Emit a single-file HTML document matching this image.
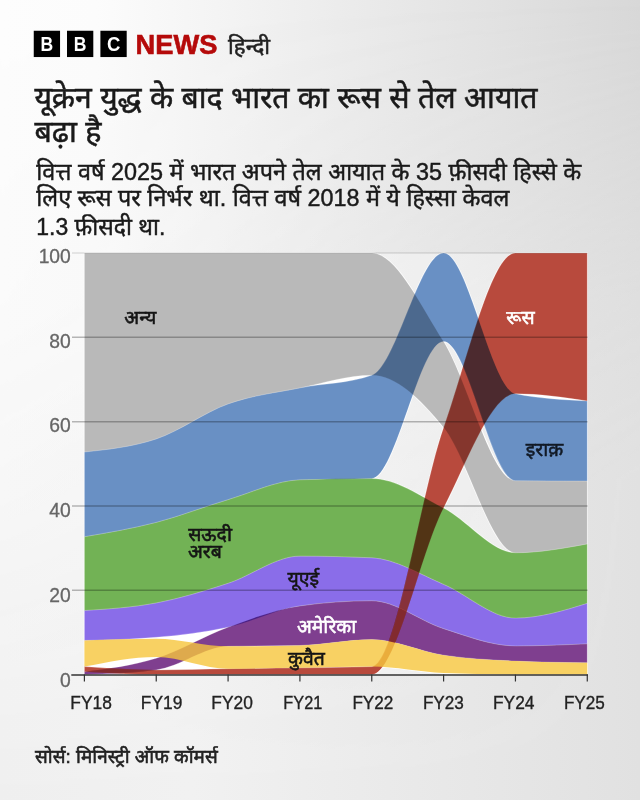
<!DOCTYPE html>
<html><head><meta charset="utf-8"><title>chart</title>
<style>
html,body{margin:0;padding:0;}
body{width:640px;height:800px;overflow:hidden;background:#ebebeb;font-family:"Liberation Sans",sans-serif;}
svg{position:absolute;left:0;top:0;}
.areas{isolation:isolate;}
.a{mix-blend-mode:multiply;stroke:#fff;stroke-width:0.25;}
.h{fill:#fff;stroke:#fff;stroke-width:1.3;stroke-linejoin:round;}
.news{font-family:"Liberation Sans",sans-serif;font-weight:bold;font-size:27.6px;fill:#b50a0a;stroke:#b50a0a;stroke-width:0.6;}
.bl{font-family:"Liberation Sans",sans-serif;font-weight:bold;font-size:19.5px;fill:#fff;}
#txt text{font-family:"Liberation Sans","Noto Sans Devanagari",sans-serif;}
</style></head><body>
<svg width="640" height="800" viewBox="0 0 640 800">
<defs>
<linearGradient id="gt" x1="0" y1="0" x2="1" y2="0"><stop offset="0" stop-color="#fdfdfd"/><stop offset="0.15" stop-color="#fcfcfc"/><stop offset="1" stop-color="#d8d8d8"/></linearGradient>
<linearGradient id="gb" x1="0" y1="0" x2="1" y2="0"><stop offset="0" stop-color="#efefef"/><stop offset="0.3" stop-color="#f1f1f1"/><stop offset="1" stop-color="#e1e1e1"/></linearGradient>
<linearGradient id="gmL" x1="0" y1="0" x2="0" y2="1"><stop offset="0" stop-color="#000"/><stop offset="0.375" stop-color="#262626"/><stop offset="0.625" stop-color="#757575"/><stop offset="1" stop-color="#fff"/></linearGradient>
<linearGradient id="gmR" x1="0" y1="0" x2="0" y2="1"><stop offset="0" stop-color="#000"/><stop offset="0.375" stop-color="#c0c0c0"/><stop offset="0.6" stop-color="#fff"/><stop offset="1" stop-color="#fff"/></linearGradient>
<linearGradient id="gmH" x1="0" y1="0" x2="1" y2="0"><stop offset="0" stop-color="#fff" stop-opacity="0"/><stop offset="1" stop-color="#fff" stop-opacity="1"/></linearGradient>
<mask id="mh" maskUnits="userSpaceOnUse" x="0" y="0" width="640" height="800"><rect x="0" y="0" width="640" height="800" fill="url(#gmH)"/></mask>
<clipPath id="cpv"><path d="M84.40,671.65C108.35,668.61 132.29,665.57 156.24,658.16C180.19,650.74 204.13,635.88 228.08,627.17C252.03,618.46 275.97,609.25 299.92,605.88C323.87,602.51 347.81,600.82 371.76,600.82C395.71,600.82 419.65,621.13 443.60,628.65C467.55,636.16 491.49,645.93 515.44,645.93C539.39,645.93 563.33,644.88 587.28,643.82L587.28,662.80C563.33,662.51 539.39,662.23 515.44,661.11C491.49,659.98 467.55,658.79 443.60,655.21C419.65,651.62 395.71,639.61 371.76,639.61C347.81,639.61 323.87,644.95 299.92,645.51C275.97,646.07 252.03,645.79 228.08,646.35C204.13,646.91 180.19,666.87 156.24,669.96C132.29,673.05 108.35,673.83 84.40,674.60Z"/><path d="M84.40,610.52C108.35,608.99 132.29,607.46 156.24,602.93C180.19,598.40 204.13,591.12 228.08,583.32C252.03,575.52 275.97,556.13 299.92,556.13C323.87,556.13 347.81,556.69 371.76,557.82C395.71,558.94 419.65,574.33 443.60,584.38C467.55,594.43 491.49,618.11 515.44,618.11C539.39,618.11 563.33,610.73 587.28,603.35L587.28,643.82C563.33,644.88 539.39,645.93 515.44,645.93C491.49,645.93 467.55,636.16 443.60,628.65C419.65,621.13 395.71,600.82 371.76,600.82C347.81,600.82 323.87,602.51 299.92,605.88C275.97,609.25 252.03,621.94 228.08,627.17C204.13,632.40 180.19,635.18 156.24,637.29C132.29,639.40 108.35,639.92 84.40,640.45Z"/></clipPath>
<mask id="mk" maskUnits="userSpaceOnUse" x="0" y="0" width="640" height="800"><rect x="0" y="0" width="640" height="800" fill="url(#gmL)"/><rect x="0" y="0" width="640" height="800" fill="url(#gmR)" mask="url(#mh)"/></mask>
</defs>
<rect x="0" y="0" width="640" height="800" fill="url(#gt)"/>
<rect x="0" y="0" width="640" height="800" fill="url(#gb)" mask="url(#mk)"/>
<g id="logo">
<rect x="33.75" y="30.75" width="26.3" height="26.3" fill="#000"/>
<rect x="67" y="30.75" width="26.3" height="26.3" fill="#000"/>
<rect x="100.4" y="30.75" width="26.3" height="26.3" fill="#000"/>
<text class="bl" transform="translate(46.9 51) scale(0.9 1)" text-anchor="middle">B</text>
<text class="bl" transform="translate(80.15 51) scale(0.9 1)" text-anchor="middle">B</text>
<text class="bl" transform="translate(113.75 51) scale(0.95 1)" text-anchor="middle">C</text>
<text class="news" x="135.6" y="53.9" textLength="81.8" lengthAdjust="spacingAndGlyphs">NEWS</text>
</g>
<g class="halo">
<rect x="84.40" y="253.00" width="502.88" height="421.60" fill="#fff" fill-opacity="0.32"/>
<rect x="84.40" y="253.00" width="287.36" height="421.60" fill="#fff"/>
<rect x="515.44" y="253.00" width="71.84" height="421.60" fill="#fff"/>
<path class="h" d="M84.40,253.00C108.35,253.00 132.29,253.00 156.24,253.00C180.19,253.00 204.13,253.00 228.08,253.00C252.03,253.00 275.97,253.00 299.92,253.00C323.87,253.00 347.81,253.00 371.76,253.00C395.71,253.00 419.65,303.59 443.60,341.54C467.55,379.48 491.49,480.38 515.44,480.66C539.39,480.95 563.33,481.02 587.28,481.09L587.28,543.90C563.33,548.33 539.39,552.76 515.44,552.76C491.49,552.76 467.55,457.12 443.60,427.54C419.65,397.96 395.71,375.26 371.76,375.26C347.81,375.26 323.87,383.13 299.92,387.91C275.97,392.69 252.03,395.43 228.08,403.93C204.13,412.44 180.19,430.92 156.24,438.93C132.29,446.94 108.35,449.47 84.40,452.00Z"/>
<path class="h" d="M84.40,452.00C108.35,449.47 132.29,446.94 156.24,438.93C180.19,430.92 204.13,412.44 228.08,403.93C252.03,395.43 275.97,392.69 299.92,387.91C323.87,383.13 347.81,383.70 371.76,375.26C395.71,366.83 419.65,253.00 443.60,253.00C467.55,253.00 491.49,389.04 515.44,393.81C539.39,398.59 563.33,399.79 587.28,400.98L587.28,481.09C563.33,481.02 539.39,480.95 515.44,480.66C491.49,480.38 467.55,341.54 443.60,341.54C419.65,341.54 395.71,477.71 371.76,478.56C347.81,479.40 323.87,478.98 299.92,479.82C275.97,480.66 252.03,492.54 228.08,499.64C204.13,506.73 180.19,516.22 156.24,522.40C132.29,528.59 108.35,532.66 84.40,536.74Z"/>
<path class="h" d="M84.40,536.74C108.35,532.66 132.29,528.59 156.24,522.40C180.19,516.22 204.13,506.73 228.08,499.64C252.03,492.54 275.97,480.66 299.92,479.82C323.87,478.98 347.81,478.56 371.76,478.56C395.71,478.56 419.65,495.70 443.60,508.07C467.55,520.43 491.49,552.76 515.44,552.76C539.39,552.76 563.33,548.33 587.28,543.90L587.28,603.35C563.33,610.73 539.39,618.11 515.44,618.11C491.49,618.11 467.55,594.43 443.60,584.38C419.65,574.33 395.71,558.94 371.76,557.82C347.81,556.69 323.87,556.13 299.92,556.13C275.97,556.13 252.03,575.52 228.08,583.32C204.13,591.12 180.19,598.40 156.24,602.93C132.29,607.46 108.35,608.99 84.40,610.52Z"/>
<path class="h" d="M84.40,610.52C108.35,608.99 132.29,607.46 156.24,602.93C180.19,598.40 204.13,591.12 228.08,583.32C252.03,575.52 275.97,556.13 299.92,556.13C323.87,556.13 347.81,556.69 371.76,557.82C395.71,558.94 419.65,574.33 443.60,584.38C467.55,594.43 491.49,618.11 515.44,618.11C539.39,618.11 563.33,610.73 587.28,603.35L587.28,643.82C563.33,644.88 539.39,645.93 515.44,645.93C491.49,645.93 467.55,636.16 443.60,628.65C419.65,621.13 395.71,600.82 371.76,600.82C347.81,600.82 323.87,602.51 299.92,605.88C275.97,609.25 252.03,621.94 228.08,627.17C204.13,632.40 180.19,635.18 156.24,637.29C132.29,639.40 108.35,639.92 84.40,640.45Z"/>
<path class="h" d="M84.40,671.65C108.35,668.61 132.29,665.57 156.24,658.16C180.19,650.74 204.13,635.88 228.08,627.17C252.03,618.46 275.97,609.25 299.92,605.88C323.87,602.51 347.81,600.82 371.76,600.82C395.71,600.82 419.65,621.13 443.60,628.65C467.55,636.16 491.49,645.93 515.44,645.93C539.39,645.93 563.33,644.88 587.28,643.82L587.28,662.80C563.33,662.51 539.39,662.23 515.44,661.11C491.49,659.98 467.55,658.79 443.60,655.21C419.65,651.62 395.71,639.61 371.76,639.61C347.81,639.61 323.87,644.95 299.92,645.51C275.97,646.07 252.03,645.79 228.08,646.35C204.13,646.91 180.19,666.87 156.24,669.96C132.29,673.05 108.35,673.83 84.40,674.60Z"/>
<path class="h" d="M84.40,666.59C108.35,668.28 132.29,669.96 156.24,669.96C180.19,669.96 204.13,669.05 228.08,668.70C252.03,668.35 275.97,668.21 299.92,667.85C323.87,667.50 347.81,667.43 371.76,666.59C395.71,665.75 419.65,496.47 443.60,427.54C467.55,358.61 491.49,253.00 515.44,253.00C539.39,253.00 563.33,253.00 587.28,253.00L587.28,400.98C563.33,397.40 539.39,393.81 515.44,393.81C491.49,393.81 467.55,461.27 443.60,508.07C419.65,554.87 395.71,674.60 371.76,674.60C347.81,674.60 323.87,674.60 299.92,674.60C275.97,674.60 252.03,674.60 228.08,674.60C204.13,674.60 180.19,674.60 156.24,674.60C132.29,674.60 108.35,673.12 84.40,671.65Z"/>
<path class="h" d="M84.40,640.45C108.35,639.61 132.29,638.76 156.24,638.76C180.19,638.76 204.13,646.35 228.08,646.35C252.03,646.35 275.97,646.07 299.92,645.51C323.87,644.95 347.81,639.61 371.76,639.61C395.71,639.61 419.65,651.62 443.60,655.21C467.55,658.79 491.49,659.98 515.44,661.11C539.39,662.23 563.33,662.51 587.28,662.80L587.28,674.60C563.33,674.60 539.39,674.60 515.44,674.60C491.49,674.60 467.55,674.11 443.60,673.12C419.65,672.14 395.71,666.59 371.76,666.59C347.81,666.59 323.87,667.50 299.92,667.85C275.97,668.21 252.03,668.70 228.08,668.70C204.13,668.70 180.19,656.89 156.24,656.89C132.29,656.89 108.35,661.74 84.40,666.59Z"/>
</g>
<g class="areas">
<path class="a" fill="#b9b9b9" d="M84.40,253.00C108.35,253.00 132.29,253.00 156.24,253.00C180.19,253.00 204.13,253.00 228.08,253.00C252.03,253.00 275.97,253.00 299.92,253.00C323.87,253.00 347.81,253.00 371.76,253.00C395.71,253.00 419.65,303.59 443.60,341.54C467.55,379.48 491.49,480.38 515.44,480.66C539.39,480.95 563.33,481.02 587.28,481.09L587.28,543.90C563.33,548.33 539.39,552.76 515.44,552.76C491.49,552.76 467.55,457.12 443.60,427.54C419.65,397.96 395.71,375.26 371.76,375.26C347.81,375.26 323.87,383.13 299.92,387.91C275.97,392.69 252.03,395.43 228.08,403.93C204.13,412.44 180.19,430.92 156.24,438.93C132.29,446.94 108.35,449.47 84.40,452.00Z"/>
<path class="a" fill="#6990c4" d="M84.40,452.00C108.35,449.47 132.29,446.94 156.24,438.93C180.19,430.92 204.13,412.44 228.08,403.93C252.03,395.43 275.97,392.69 299.92,387.91C323.87,383.13 347.81,383.70 371.76,375.26C395.71,366.83 419.65,253.00 443.60,253.00C467.55,253.00 491.49,389.04 515.44,393.81C539.39,398.59 563.33,399.79 587.28,400.98L587.28,481.09C563.33,481.02 539.39,480.95 515.44,480.66C491.49,480.38 467.55,341.54 443.60,341.54C419.65,341.54 395.71,477.71 371.76,478.56C347.81,479.40 323.87,478.98 299.92,479.82C275.97,480.66 252.03,492.54 228.08,499.64C204.13,506.73 180.19,516.22 156.24,522.40C132.29,528.59 108.35,532.66 84.40,536.74Z"/>
<path class="a" fill="#72b255" d="M84.40,536.74C108.35,532.66 132.29,528.59 156.24,522.40C180.19,516.22 204.13,506.73 228.08,499.64C252.03,492.54 275.97,480.66 299.92,479.82C323.87,478.98 347.81,478.56 371.76,478.56C395.71,478.56 419.65,495.70 443.60,508.07C467.55,520.43 491.49,552.76 515.44,552.76C539.39,552.76 563.33,548.33 587.28,543.90L587.28,603.35C563.33,610.73 539.39,618.11 515.44,618.11C491.49,618.11 467.55,594.43 443.60,584.38C419.65,574.33 395.71,558.94 371.76,557.82C347.81,556.69 323.87,556.13 299.92,556.13C275.97,556.13 252.03,575.52 228.08,583.32C204.13,591.12 180.19,598.40 156.24,602.93C132.29,607.46 108.35,608.99 84.40,610.52Z"/>
<path class="a" fill="#8a6de9" d="M84.40,610.52C108.35,608.99 132.29,607.46 156.24,602.93C180.19,598.40 204.13,591.12 228.08,583.32C252.03,575.52 275.97,556.13 299.92,556.13C323.87,556.13 347.81,556.69 371.76,557.82C395.71,558.94 419.65,574.33 443.60,584.38C467.55,594.43 491.49,618.11 515.44,618.11C539.39,618.11 563.33,610.73 587.28,603.35L587.28,643.82C563.33,644.88 539.39,645.93 515.44,645.93C491.49,645.93 467.55,636.16 443.60,628.65C419.65,621.13 395.71,600.82 371.76,600.82C347.81,600.82 323.87,602.51 299.92,605.88C275.97,609.25 252.03,621.94 228.08,627.17C204.13,632.40 180.19,635.18 156.24,637.29C132.29,639.40 108.35,639.92 84.40,640.45Z"/>
<path class="a" fill="#7f3f8f" d="M84.40,671.65C108.35,668.61 132.29,665.57 156.24,658.16C180.19,650.74 204.13,635.88 228.08,627.17C252.03,618.46 275.97,609.25 299.92,605.88C323.87,602.51 347.81,600.82 371.76,600.82C395.71,600.82 419.65,621.13 443.60,628.65C467.55,636.16 491.49,645.93 515.44,645.93C539.39,645.93 563.33,644.88 587.28,643.82L587.28,662.80C563.33,662.51 539.39,662.23 515.44,661.11C491.49,659.98 467.55,658.79 443.60,655.21C419.65,651.62 395.71,639.61 371.76,639.61C347.81,639.61 323.87,644.95 299.92,645.51C275.97,646.07 252.03,645.79 228.08,646.35C204.13,646.91 180.19,666.87 156.24,669.96C132.29,673.05 108.35,673.83 84.40,674.60Z"/>
<path class="a" fill="#b84a3d" d="M84.40,666.59C108.35,668.28 132.29,669.96 156.24,669.96C180.19,669.96 204.13,669.05 228.08,668.70C252.03,668.35 275.97,668.21 299.92,667.85C323.87,667.50 347.81,667.43 371.76,666.59C395.71,665.75 419.65,496.47 443.60,427.54C467.55,358.61 491.49,253.00 515.44,253.00C539.39,253.00 563.33,253.00 587.28,253.00L587.28,400.98C563.33,397.40 539.39,393.81 515.44,393.81C491.49,393.81 467.55,461.27 443.60,508.07C419.65,554.87 395.71,674.60 371.76,674.60C347.81,674.60 323.87,674.60 299.92,674.60C275.97,674.60 252.03,674.60 228.08,674.60C204.13,674.60 180.19,674.60 156.24,674.60C132.29,674.60 108.35,673.12 84.40,671.65Z"/>
<path class="n" fill="#f6c63c" fill-opacity="0.8" d="M84.40,640.45C108.35,639.61 132.29,638.76 156.24,638.76C180.19,638.76 204.13,646.35 228.08,646.35C252.03,646.35 275.97,646.07 299.92,645.51C323.87,644.95 347.81,639.61 371.76,639.61C395.71,639.61 419.65,651.62 443.60,655.21C467.55,658.79 491.49,659.98 515.44,661.11C539.39,662.23 563.33,662.51 587.28,662.80L587.28,674.60C563.33,674.60 539.39,674.60 515.44,674.60C491.49,674.60 467.55,674.11 443.60,673.12C419.65,672.14 395.71,666.59 371.76,666.59C347.81,666.59 323.87,667.50 299.92,667.85C275.97,668.21 252.03,668.70 228.08,668.70C204.13,668.70 180.19,656.89 156.24,656.89C132.29,656.89 108.35,661.74 84.40,666.59Z"/>
<path fill="#b84a3d" fill-opacity="0.42" clip-path="url(#cpv)" d="M84.40,666.59C108.35,668.28 132.29,669.96 156.24,669.96C180.19,669.96 204.13,669.05 228.08,668.70C252.03,668.35 275.97,668.21 299.92,667.85C323.87,667.50 347.81,667.43 371.76,666.59C395.71,665.75 419.65,496.47 443.60,427.54C467.55,358.61 491.49,253.00 515.44,253.00C539.39,253.00 563.33,253.00 587.28,253.00L587.28,400.98C563.33,397.40 539.39,393.81 515.44,393.81C491.49,393.81 467.55,461.27 443.60,508.07C419.65,554.87 395.71,674.60 371.76,674.60C347.81,674.60 323.87,674.60 299.92,674.60C275.97,674.60 252.03,674.60 228.08,674.60C204.13,674.60 180.19,674.60 156.24,674.60C132.29,674.60 108.35,673.12 84.40,671.65Z"/>
</g>
<g id="grid">
<line x1="72" x2="587.5" y1="253.00" y2="253.00" stroke="#000" stroke-opacity="0.17" stroke-width="1.2"/>
<line x1="72" x2="587.5" y1="337.32" y2="337.32" stroke="#000" stroke-opacity="0.27" stroke-width="1.5"/>
<line x1="72" x2="587.5" y1="421.64" y2="421.64" stroke="#000" stroke-opacity="0.27" stroke-width="1.5"/>
<line x1="72" x2="587.5" y1="505.96" y2="505.96" stroke="#000" stroke-opacity="0.27" stroke-width="1.5"/>
<line x1="72" x2="587.5" y1="590.28" y2="590.28" stroke="#000" stroke-opacity="0.27" stroke-width="1.5"/>
<line x1="71.3" x2="588" y1="675.00" y2="675.00" stroke="#333" stroke-width="1.5"/>
<line x1="84.40" x2="84.40" y1="674.60" y2="681.50" stroke="#333" stroke-width="1.2"/>
<line x1="156.24" x2="156.24" y1="674.60" y2="681.50" stroke="#333" stroke-width="1.2"/>
<line x1="228.08" x2="228.08" y1="674.60" y2="681.50" stroke="#333" stroke-width="1.2"/>
<line x1="299.92" x2="299.92" y1="674.60" y2="681.50" stroke="#333" stroke-width="1.2"/>
<line x1="371.76" x2="371.76" y1="674.60" y2="681.50" stroke="#333" stroke-width="1.2"/>
<line x1="443.60" x2="443.60" y1="674.60" y2="681.50" stroke="#333" stroke-width="1.2"/>
<line x1="515.44" x2="515.44" y1="674.60" y2="681.50" stroke="#333" stroke-width="1.2"/>
<line x1="587.28" x2="587.28" y1="674.60" y2="681.50" stroke="#333" stroke-width="1.2"/>
</g>
<g id="txt">
<text x="228.1" y="54" font-size="21.5" fill="#222" stroke="#222" stroke-width="0.5" textLength="42" lengthAdjust="spacingAndGlyphs">हिन्दी</text>
<text x="34.4" y="107.5" font-size="30" fill="#1a1a1a" stroke="#1a1a1a" stroke-width="0.55" textLength="503" lengthAdjust="spacingAndGlyphs">यूक्रेन युद्ध के बाद भारत का रूस से तेल आयात</text>
<text x="34.4" y="142.1" font-size="30" fill="#1a1a1a" stroke="#1a1a1a" stroke-width="0.55" textLength="67" lengthAdjust="spacingAndGlyphs">बढ़ा है</text>
<text x="36.3" y="179.8" font-size="23.3" fill="#1a1a1a" stroke="#1a1a1a" stroke-width="0.45" textLength="545" lengthAdjust="spacingAndGlyphs">वित्त वर्ष 2025 में भारत अपने तेल आयात के 35 फ़ीसदी हिस्से के</text>
<text x="36.3" y="206.4" font-size="23.3" fill="#1a1a1a" stroke="#1a1a1a" stroke-width="0.45" textLength="473" lengthAdjust="spacingAndGlyphs">लिए रूस पर निर्भर था. वित्त वर्ष 2018 में ये हिस्सा केवल</text>
<text x="36.3" y="234.6" font-size="23.3" fill="#1a1a1a" stroke="#1a1a1a" stroke-width="0.45" textLength="129" lengthAdjust="spacingAndGlyphs">1.3 फ़ीसदी था.</text>
<text x="70.8" y="262.9" font-size="19.3" fill="#666" stroke="#666" stroke-width="0.3" text-anchor="end">100</text>
<text x="70.8" y="347.66" font-size="19.3" fill="#666" stroke="#666" stroke-width="0.3" text-anchor="end">80</text>
<text x="70.8" y="432.42" font-size="19.3" fill="#666" stroke="#666" stroke-width="0.3" text-anchor="end">60</text>
<text x="70.8" y="517.18" font-size="19.3" fill="#666" stroke="#666" stroke-width="0.3" text-anchor="end">40</text>
<text x="70.8" y="601.94" font-size="19.3" fill="#666" stroke="#666" stroke-width="0.3" text-anchor="end">20</text>
<text x="70.8" y="686.7" font-size="19.3" fill="#666" stroke="#666" stroke-width="0.3" text-anchor="end">0</text>
<text x="70.3" y="708.5" font-size="19" fill="#222" stroke="#222" stroke-width="0.35" textLength="41.5" lengthAdjust="spacingAndGlyphs">FY18</text>
<text x="140.8" y="708.5" font-size="19" fill="#222" stroke="#222" stroke-width="0.35" textLength="41.5" lengthAdjust="spacingAndGlyphs">FY19</text>
<text x="211.3" y="708.5" font-size="19" fill="#222" stroke="#222" stroke-width="0.35" textLength="41.5" lengthAdjust="spacingAndGlyphs">FY20</text>
<text x="283.3" y="708.5" font-size="19" fill="#222" stroke="#222" stroke-width="0.35" textLength="39" lengthAdjust="spacingAndGlyphs">FY21</text>
<text x="352.4" y="708.5" font-size="19" fill="#222" stroke="#222" stroke-width="0.35" textLength="41" lengthAdjust="spacingAndGlyphs">FY22</text>
<text x="422.9" y="708.5" font-size="19" fill="#222" stroke="#222" stroke-width="0.35" textLength="41" lengthAdjust="spacingAndGlyphs">FY23</text>
<text x="493" y="708.5" font-size="19" fill="#222" stroke="#222" stroke-width="0.35" textLength="41.5" lengthAdjust="spacingAndGlyphs">FY24</text>
<text x="563.9" y="708.5" font-size="19" fill="#222" stroke="#222" stroke-width="0.35" textLength="41" lengthAdjust="spacingAndGlyphs">FY25</text>
<text x="124.24" y="323.7" font-size="19" fill="#151515" stroke="#151515" stroke-width="0.55" textLength="32" lengthAdjust="spacingAndGlyphs">अन्य</text>
<text x="506.25" y="324.4" font-size="19" fill="#fff" stroke="#fff" stroke-width="0.55" textLength="28.3" lengthAdjust="spacingAndGlyphs">रूस</text>
<text x="525.75" y="455.7" font-size="19" fill="#121a26" stroke="#121a26" stroke-width="0.55" textLength="37.5" lengthAdjust="spacingAndGlyphs">इराक़</text>
<text x="188.25" y="540.6" font-size="19" fill="#151515" stroke="#151515" stroke-width="0.55" textLength="43.7" lengthAdjust="spacingAndGlyphs">सऊदी</text>
<text x="187.94" y="558.1" font-size="19" fill="#151515" stroke="#151515" stroke-width="0.55" textLength="34" lengthAdjust="spacingAndGlyphs">अरब</text>
<text x="287.5" y="585" font-size="19" fill="#151515" stroke="#151515" stroke-width="0.55" textLength="31.6" lengthAdjust="spacingAndGlyphs">यूएई</text>
<text x="296.94" y="633.1" font-size="19" fill="#fff" stroke="#fff" stroke-width="0.55" textLength="59.3" lengthAdjust="spacingAndGlyphs">अमेरिका</text>
<text x="288" y="664.5" font-size="19" fill="#151515" stroke="#151515" stroke-width="0.55" textLength="36.8" lengthAdjust="spacingAndGlyphs">कुवैत</text>
<text x="35" y="763" font-size="18.8" fill="#222" stroke="#222" stroke-width="0.55" textLength="182.7" lengthAdjust="spacingAndGlyphs">सोर्स: मिनिस्ट्री ऑफ कॉमर्स</text>
</g>
</svg>
</body></html>
